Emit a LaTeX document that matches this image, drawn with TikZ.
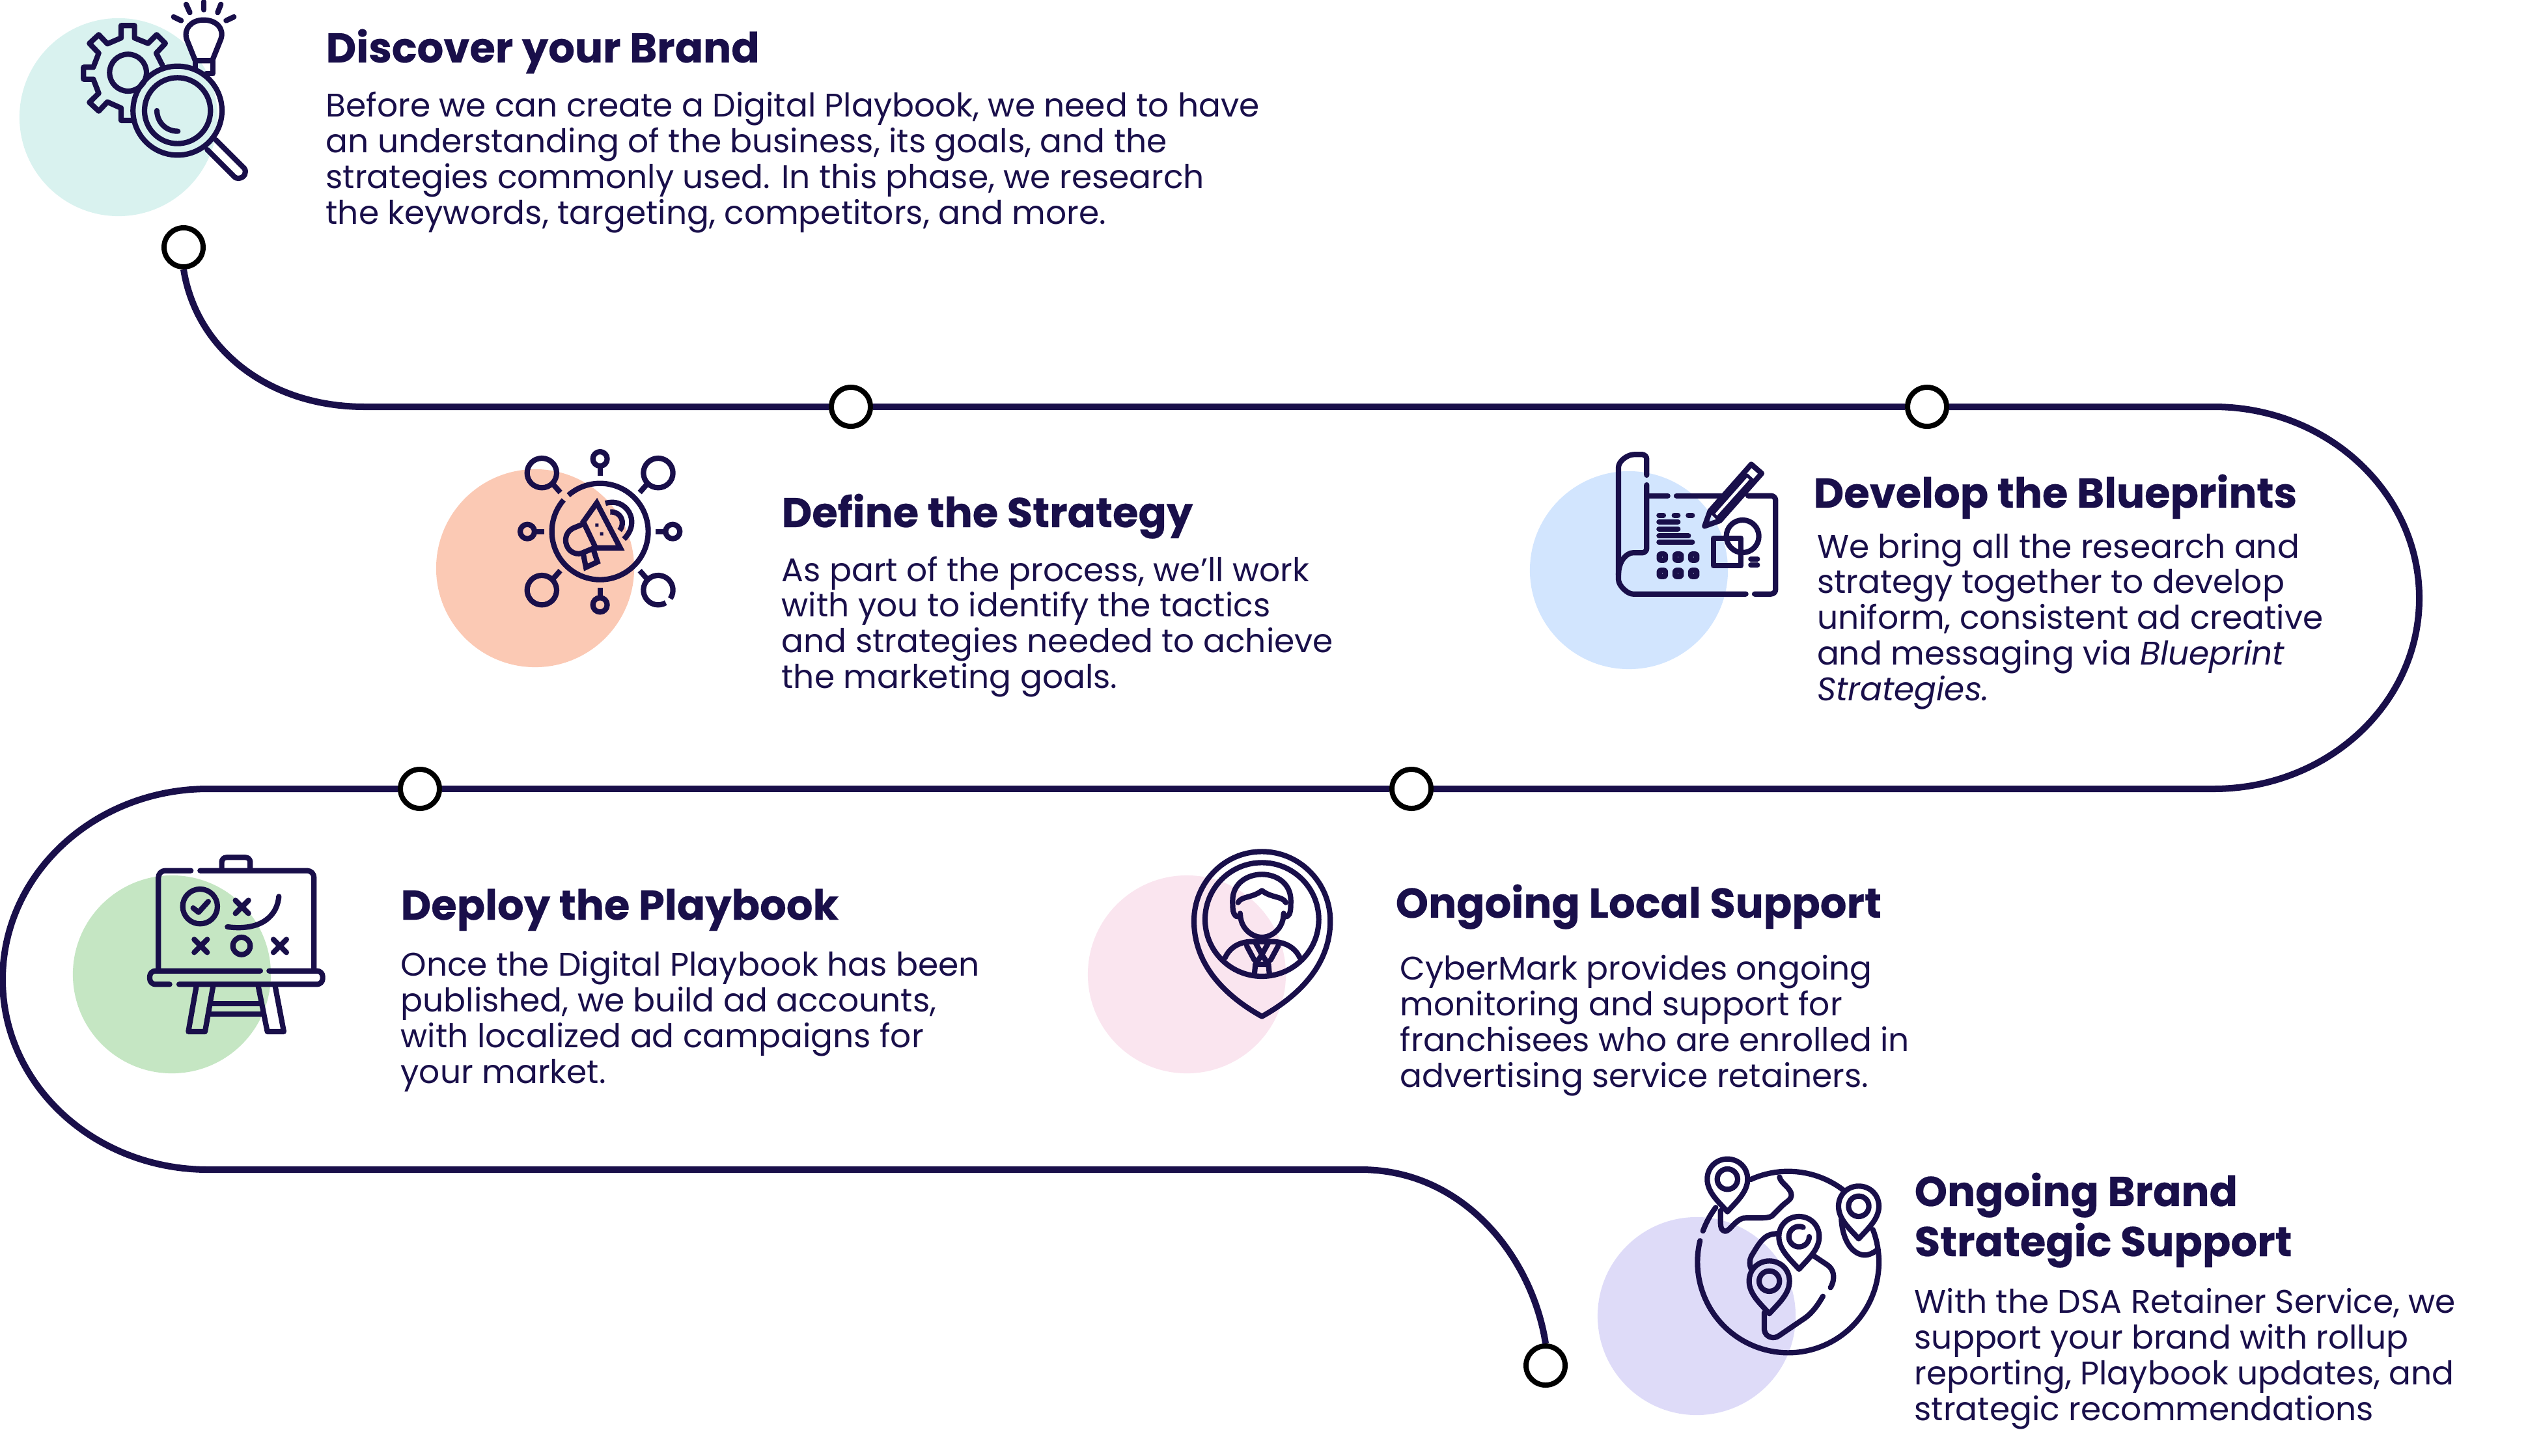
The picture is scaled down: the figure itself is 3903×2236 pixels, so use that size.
\documentclass[tikz,border=0pt]{standalone}
\usepackage{fontspec}
\setmainfont{Poppins}
\newfontfamily\headfont[FakeBold=0.35]{Poppins Bold}
\usepackage{xcolor}
\usetikzlibrary{positioning}
\definecolor{inkblue}{HTML}{190F4A}
\definecolor{discmint}{HTML}{D9F2EF}
\definecolor{discpeach}{HTML}{FBC9B4}
\definecolor{discsky}{HTML}{D2E5FE}
\definecolor{discgreen}{HTML}{C5E6C3}
\definecolor{discpink}{HTML}{FAE5EF}
\definecolor{disclilac}{HTML}{DEDBF8}
\tikzset{
  disc/.style={circle, minimum size=3.04cm, inner sep=0pt},
  trackdot/.style={circle, draw=black, fill=white, line width=0.08cm, minimum size=0.6cm, inner sep=0pt},
  track/.style={draw=inkblue, line width=0.1cm},
  icon/.style={draw=inkblue, line width=0.082cm, line cap=round, line join=round},
  stitle/.style={anchor=north west, inner sep=0pt, align=left, text=inkblue, font=\fontsize{18.2pt}{21.9pt}\selectfont\headfont},
  sbody/.style={inner sep=0pt, align=left, text=inkblue, font=\fontsize{14.28pt}{15.6pt}\selectfont}
}
\begin{document}
\begin{tikzpicture}[x=0.01cm, y=-0.01cm]
  \useasboundingbox (0,0) rectangle (3903,2236);

  \node (discbrand) [disc, fill=discmint] at (182,180) {};
  \node (discstrategy) [disc, fill=discpeach] at (822,873) {};
  \node (discblueprint) [disc, fill=discsky] at (2502,876) {};
  \node (discplaybook) [disc, fill=discgreen] at (264,1497) {};
  \node (disclocal) [disc, fill=discpink] at (1823,1497) {};
  \node (discglobal) [disc, fill=disclilac] at (2606,2022) {};

  \node (dotA) [trackdot] at (282,380) {};
  \node (dotB) [trackdot] at (1307,625) {};
  \node (dotC) [trackdot] at (2960,625) {};
  \node (dotD) [trackdot] at (2168,1212) {};
  \node (dotE) [trackdot] at (645,1212) {};
  \node (dotF) [trackdot] at (2374,2098) {};
  \coordinate (bendA) at (560,625);
  \coordinate (bendB) at (3400,625);
  \coordinate (bendC) at (3400,1212);
  \coordinate (bendD) at (320,1212);
  \coordinate (bendE) at (320,1797);
  \coordinate (bendF) at (2090,1797);

  \draw[track] (dotA.south) .. controls +(20,125) and +(-145,0) .. (bendA) -- (dotB);
  \draw[track] (dotB) -- (dotC);
  \draw[track] (dotC) -- (bendB) .. controls +(175,0) and +(0,-162) .. (3716,919) .. controls +(0,162) and +(175,0) .. (bendC) -- (dotD);
  \draw[track] (dotD) -- (dotE);
  \draw[track] (dotE) -- (bendD) .. controls +(-175,0) and +(0,-162) .. (4,1505) .. controls +(0,162) and +(-175,0) .. (bendE) -- (bendF) .. controls +(160,0) and +(-20,-130) .. (dotF.north);

  \node (titlebrand) [stitle] at (500,44) {Discover your Brand};
  \node (textbrand) [sbody, below=7.6pt of titlebrand.south west, anchor=north west]
    {Before we can create a Digital Playbook, we need to have\\an understanding of the business, its goals, and the\\strategies commonly used. In this phase, we research\\the keywords, targeting, competitors, and more.};
  \node (titlestrategy) [stitle] at (1200,758) {Define the Strategy};
  \node (textstrategy) [sbody, below=7.3pt of titlestrategy.south west, anchor=north west]
    {As part of the process, we’ll work\\with you to identify the tactics\\and strategies needed to achieve\\the marketing goals.};
  \node (titleblueprint) [stitle] at (2785,728) {Develop the Blueprints};
  \node (textblueprint) [sbody, below=5.8pt of titleblueprint.south west, anchor=north west, xshift=1.5pt]
    {We bring all the research and\\strategy together to develop\\uniform, consistent ad creative\\and messaging via \textit{Blueprint}\\\textit{Strategies.}};
  \node (titleplaybook) [stitle] at (615,1365) {Deploy the Playbook};
  \node (textplaybook) [sbody, below=8.6pt of titleplaybook.south west, anchor=north west]
    {Once the Digital Playbook has been\\published, we build ad accounts,\\with localized ad campaigns for\\your market.};
  \node (titlelocal) [stitle] at (2143,1358) {Ongoing Local Support};
  \node (textlocal) [sbody, below=11pt of titlelocal.south west, anchor=north west, xshift=2pt]
    {CyberMark provides ongoing\\monitoring and support for\\franchisees who are enrolled in\\advertising service retainers.};
  \node (titleglobal) [stitle] at (2940,1801) {Ongoing Brand\\Strategic Support};
  \node (textglobal) [sbody, below=8.7pt of titleglobal.south west, anchor=north west]
    {With the DSA Retainer Service, we\\support your brand with rollup\\reporting, Playbook updates, and\\strategic recommendations};

  \begin{scope}[shift={(0,0)}, scale=0.3333]
    \draw[icon] (748,300) -- (720,245) -- (762,200) -- (722,160) -- (682,200) -- (620,175) -- (620,118) -- (558,118) -- (558,175) -- (495,202) -- (455,160) -- (412,200) -- (455,245) -- (430,310) -- (385,310) -- (385,365) -- (430,365) -- (455,430) -- (412,472) -- (455,512) -- (495,470) -- (558,498) -- (558,555) -- (610,555);
    \draw[icon] (590,335) circle[radius=85];
    \draw[icon] (818,510) circle[radius=205];
    \draw[icon] (818,510) circle[radius=152];
    \draw[icon] (723,510) .. controls (725,565) and (765,605) .. (820,605);
    \draw[icon] (995,645) -- (1125,775) .. controls (1140,795) and (1125,820) .. (1100,822) .. controls (1090,822) and (1085,820) .. (1080,815) -- (955,690);
    \draw[icon] (900,280) -- (860,180) .. controls (845,130) and (885,92) .. (938,92) .. controls (995,92) and (1035,130) .. (1018,180) -- (978,280) -- cycle;
    \draw[icon] (900,280) -- (900,312);
    \draw[icon] (980,280) -- (980,340) -- (950,340);
    \foreach \ax/\ay/\bx/\by in {858/20/875/58, 938/8/938/45, 1018/20/1003/58, 800/78/835/95, 1078/78/1042/95}
      \draw[icon] (\ax,\ay) -- (\bx,\by);
  \end{scope}

  \begin{scope}[shift={(650,660)}, scale=0.3333]
    \draw[icon, line cap=butt] (815,470) ++(229:222) arc[start angle=229, delta angle=352, radius=222];
    \foreach \cx/\cy/\ax/\ay/\bx/\by in {815/135/815/170/815/212, 815/808/815/775/815/730, 480/470/515/470/558/470, 1150/470/1115/470/1070/470} {
      \draw[icon] (\cx,\cy) circle[radius=33];
      \draw[icon, line cap=butt] (\ax,\ay) -- (\bx,\by);
    }
    \foreach \cx/\cy/\ax/\ay/\bx/\by in {547/200/597/250/632/290, 1083/200/1033/250/998/290, 547/740/597/690/632/650}  {
      \draw[icon] (\cx,\cy) circle[radius=68];
      \draw[icon, line cap=butt] (\ax,\ay) -- (\bx,\by);
    }
    \draw[icon, line cap=butt] (1083,740) ++(59:68) arc[start angle=59, delta angle=336, radius=68];
    \draw[icon, line cap=butt] (1033,690) -- (998,650);
    \draw[icon, line join=miter] (738,425) -- (800,338) -- (908,545) -- (795,545) -- cycle;
    \draw[icon] (738,435) -- (690,455) .. controls (650,475) and (645,530) .. (680,560) .. controls (695,572) and (715,575) .. (730,570) -- (790,545);
    \draw[icon, line join=miter] (738,575) -- (750,635) -- (803,610) -- (785,555);
    \fill[inkblue] (793,433) rectangle (808,448) (815,473) rectangle (830,488);
    \draw[icon, line cap=butt] (862,380) .. controls (910,375) and (935,430) .. (905,465);
    \draw[icon, line cap=butt] (840,340) .. controls (930,310) and (1010,420) .. (925,505);
  \end{scope}

  \begin{scope}[shift={(2340,670)}, scale=0.3333]
    \draw[icon, rounded corners=2pt] (568,180) -- (568,85) -- (530,85) .. controls (480,85) and (438,115) .. (438,165) -- (438,640) .. controls (438,690) and (480,728) .. (525,728) -- (1025,728);
    \draw[icon, rounded corners=2pt] (568,225) -- (568,538) -- (525,538) .. controls (480,538) and (438,570) .. (438,640);
    \draw[icon, rounded corners=2pt] (1065,728) -- (1162,728) -- (1162,275) -- (1035,275);
    \draw[icon] (920,275) -- (705,275);
    \draw[icon] (665,275) -- (568,275);
    \draw[icon] (860,345) -- (1050,130) -- (1098,172) -- (905,390) -- (835,415) -- cycle;
    \draw[icon, line width=0.05cm] (878,352) -- (1030,180) (898,372) -- (1052,200);
    \draw[icon, line width=0.05cm] (1030,180) -- (1052,200) (860,345) -- (905,390);
    \foreach \ax/\ay/\bx/\by in {625/365/645/365, 695/365/712/365, 760/365/778/365, 625/395/712/395, 625/428/712/428, 625/460/760/460, 625/490/778/490, 1048/567/1078/567, 1048/595/1078/595}
      \draw[icon] (\ax,\ay) -- (\bx,\by);
    \foreach \bx in {640,713,785}
      \foreach \by in {558,633}
        \draw[icon, rounded corners=0.6pt] (\bx-14,\by-14) rectangle (\bx+14,\by+14);
    \draw[icon] (875,470) rectangle (1003,598);
    \draw[icon] (1010,462) circle[radius=75];
  \end{scope}

  \begin{scope}[shift={(100,1290)}, scale=0.3333]
    \draw[icon, rounded corners=3pt] (580,143) -- (430,143) -- (430,600);
    \draw[icon, rounded corners=3pt] (622,143) -- (1147,143) -- (1147,600);
    \draw[icon, rounded corners=2pt] (722,135) -- (722,82) -- (853,82) -- (853,135);
    \draw[icon, rounded corners=2.5pt] (900,605) -- (390,605) -- (390,667) -- (482,667);
    \draw[icon, rounded corners=2.5pt] (525,667) -- (1187,667) -- (1187,605) -- (940,605);
    \draw[icon] (605,675) -- (568,885) -- (645,885) -- (682,675);
    \draw[icon] (890,675) -- (932,885) -- (1008,885) -- (968,675);
    \draw[icon] (675,755) -- (905,755) (665,805) -- (915,805);
    \draw[icon] (622,308) circle[radius=80];
    \draw[icon] (590,315) -- (615,335) -- (660,285);
    \foreach \cx/\cy in {815/310, 625/490, 990/490}
      \draw[icon] (\cx-30,\cy-30) -- (\cx+30,\cy+30) (\cx-30,\cy+30) -- (\cx+30,\cy-30);
    \draw[icon] (813,490) circle[radius=40];
    \draw[icon] (748,402) .. controls (880,420) and (975,370) .. (985,262);
  \end{scope}

  \begin{scope}[shift={(1660,1290)}, scale=0.3333]
    \draw[icon] (835,815) .. controls (700,740) and (522,600) .. (522,375) .. controls (522,200) and (660,55) .. (835,55) .. controls (1010,55) and (1150,200) .. (1150,375) .. controls (1150,600) and (970,740) .. (835,815) -- cycle;
    \draw[icon] (835,368) circle[radius=262];
    \draw[icon] (720,355) .. controls (700,345) and (700,320) .. (700,280) .. controls (700,200) and (770,160) .. (835,160) .. controls (900,160) and (968,200) .. (968,280) .. controls (968,320) and (968,345) .. (950,355);
    \draw[icon] (725,290) .. controls (740,260) and (790,270) .. (835,235) .. controls (880,270) and (930,260) .. (945,290);
    \draw[icon] (735,340) .. controls (735,410) and (790,450) .. (835,450) .. controls (880,450) and (935,410) .. (935,340);
    \draw[icon] (665,545) .. controls (690,490) and (740,470) .. (790,470) -- (880,470) .. controls (930,470) and (985,490) .. (1010,545);
    \draw[icon] (765,490) -- (800,555) (910,490) -- (875,555) (805,475) -- (835,530) -- (865,475);
    \draw[icon] (835,530) -- (805,575) -- (865,575) -- cycle;
    \draw[icon] (805,575) -- (800,625) (865,575) -- (870,625);
  \end{scope}

  \begin{scope}[shift={(2450,1760)}, scale=0.3333]
    \draw[icon] (890,537) ++(339:418) arc[start angle=339, delta angle=214.6, radius=418];
    \draw[icon] (890,537) ++(200:418) arc[start angle=200, delta angle=17, radius=418];
    \draw[icon] (890,537) ++(245.7:418) arc[start angle=245.7, delta angle=62.3, radius=418];
    \foreach \px/\py in {610/155, 1215/280, 940/420, 803/625}
      \draw[icon] (\px,\py+150) .. controls (\px-40,\py+105) and (\px-93,\py+60) .. (\px-93,\py) .. controls (\px-93,\py-55) and (\px-50,\py-93) .. (\px,\py-93) .. controls (\px+50,\py-93) and (\px+93,\py-55) .. (\px+93,\py) .. controls (\px+93,\py+60) and (\px+40,\py+105) .. (\px,\py+150) -- cycle;
    \foreach \px/\py in {610/155, 1215/280, 803/625}
      \draw[icon] (\px,\py) circle[radius=47];
    \draw[icon] (940,420) ++(-66:47) arc[start angle=-66, delta angle=-294, radius=47];
    \draw[icon] (850,145) .. controls (855,175) and (905,195) .. (905,230) .. controls (905,250) and (880,260) .. (865,275) -- (815,325) .. controls (790,340) and (730,330) .. (680,335) .. controls (640,350) and (620,395) .. (600,395) .. controls (575,390) and (578,370) .. (578,300);
    \draw[icon] (840,405) -- (810,410) .. controls (770,420) and (745,470) .. (720,510) .. controls (710,530) and (712,555) .. (720,570);
    \draw[icon] (780,770) -- (780,850) .. controls (785,885) and (825,895) .. (850,875) -- (960,800) .. controls (1000,775) and (1030,730) .. (1050,695);
    \draw[icon] (1085,655) .. controls (1110,610) and (1100,570) .. (1070,550) -- (1010,510);
    \draw[icon] (1135,340) .. controls (1140,430) and (1180,500) .. (1240,505) .. controls (1265,505) and (1280,495) .. (1295,485);
  \end{scope}
\end{tikzpicture}
\end{document}
